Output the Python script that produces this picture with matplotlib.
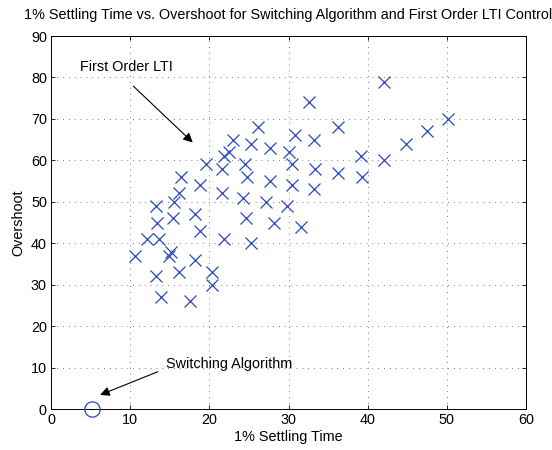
import matplotlib.pyplot as plt

plt.rcParams['font.family'] = ['Liberation Sans', 'DejaVu Sans']

# first order LTI results (settling time, overshoot)
lti_time = [10.6, 12.1, 13.3, 13.4, 13.3, 13.7, 13.9, 15.5, 15.4, 15.2, 14.9,
            16.4, 16.2, 16.2, 17.6, 18.2, 18.2, 18.8, 18.8, 19.6, 20.3, 20.3,
            21.6, 21.6, 21.9, 21.9, 22.5, 23.0, 24.5, 24.7, 24.3, 24.6, 25.3,
            25.3, 26.2, 27.7, 27.6, 27.1, 28.2, 30.8, 30.1, 30.5, 30.4, 29.8,
            31.6, 32.6, 33.2, 33.3, 33.2, 36.2, 36.2, 39.1, 39.3, 42.1, 42.0,
            44.8, 47.5, 50.2]
lti_overshoot = [37, 41, 49, 45, 32, 41, 27, 50, 46, 38, 37,
                 56, 52, 33, 26, 47, 36, 54, 43, 59, 33, 30,
                 58, 52, 61, 41, 62, 65, 59, 56, 51, 46, 64,
                 40, 68, 63, 55, 50, 45, 66, 62, 59, 54, 49,
                 44, 74, 65, 58, 53, 68, 57, 61, 56, 79, 60,
                 64, 67, 70]

# switching algorithm result
sw_time = [5.2]
sw_overshoot = [0]

x_ticks = [0, 10, 20, 30, 40, 50, 60]
y_ticks = [0, 10, 20, 30, 40, 50, 60, 70, 80, 90]

fs = 10.4

fig = plt.figure(figsize=(5.52, 4.5), dpi=100)
ax = fig.add_axes([0.0924, 0.0911, 0.8606, 0.8289])

ax.plot(lti_time, lti_overshoot, 'x', color='#2a48b8', markersize=9,
        markeredgewidth=0.9, linestyle='none')
ax.plot(sw_time, sw_overshoot, 'o', markerfacecolor='none',
        markeredgecolor='#2a48b8', markersize=11, markeredgewidth=0.9,
        clip_on=False, zorder=5)

ax.set_xlim(0, 60)
ax.set_ylim(0, 90)
ax.set_xticks(x_ticks)
ax.set_yticks(y_ticks)
ax.grid(True, linestyle=(0, (1, 6)), color='#555555', linewidth=0.6)
ax.tick_params(direction='in', top=True, right=True, labelsize=fs,
               length=3, width=0.6, pad=3)
for s in ax.spines.values():
    s.set_linewidth(0.7)

ax.set_xlabel('1% Settling Time', fontsize=fs, labelpad=2)
ax.set_ylabel('Overshoot', fontsize=fs, labelpad=4)
ax.set_title('1% Settling Time vs. Overshoot for Switching Algorithm and First Order LTI Control',
             fontsize=fs, pad=12)

arrow = dict(arrowstyle='-|>', color='black', lw=0.8, mutation_scale=14,
             shrinkA=0, shrinkB=0)

ax.text(3.7, 82.4, 'First Order LTI', fontsize=fs, va='center', ha='left')
ax.annotate('', xy=(17.9, 64.3), xytext=(10.4, 77.9), arrowprops=arrow)
ax.text(14.5, 10.9, 'Switching Algorithm', fontsize=fs, va='center', ha='left')
ax.annotate('', xy=(6.2, 3.4), xytext=(13.5, 9.0), arrowprops=arrow)

fig.savefig('out.png', dpi=100)
